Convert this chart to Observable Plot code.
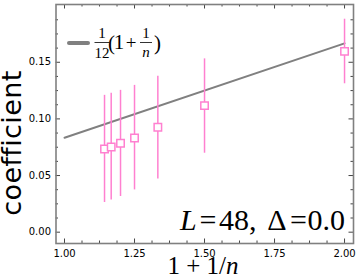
<!DOCTYPE html>
<html><head><meta charset="utf-8">
<script src="https://cdn.jsdelivr.net/npm/d3@7"></script>
<script src="https://cdn.jsdelivr.net/npm/@observablehq/plot@0.6"></script>
<style>body{margin:0;background:#fff} svg{display:block}</style>
</head><body><div id="chart"></div>
<script>
// data
const xVals = [1.1429, 1.1667, 1.2, 1.25, 1.3333, 1.5, 2.0];
const yVals = [0.0735, 0.0752, 0.0785, 0.0832, 0.0926, 0.1117, 0.1596];
const yLow  = [0.0262, 0.0285, 0.0315, 0.0373, 0.0470, 0.0697, 0.1310];
const yHigh = [0.1208, 0.1226, 0.1252, 0.1296, 0.1376, 0.1530, 0.1880];
const lineX = [1.0, 2.0];
const lineY = [0.08333, 0.16667];
const xMajor = [1.0, 1.25, 1.5, 1.75, 2.0];
const xTickLabels = ["1.00", "1.25", "1.50", "1.75", "2.00"];
const xMinor = [1.0625, 1.125, 1.1875, 1.3125, 1.375, 1.4375, 1.5625, 1.625, 1.6875, 1.8125, 1.875, 1.9375];
const yMajor = [0.0, 0.05, 0.10, 0.15];
const yTickLabels = ["0.00", "0.05", "0.10", "0.15"];
const yMinor = [0.0125, 0.025, 0.0375, 0.0625, 0.075, 0.0875, 0.1125, 0.125, 0.1375, 0.1625, 0.175, 0.1875];
const xDomain = [0.9696, 2.032];
const yDomain = [-0.01, 0.201];

const pts = xVals.map((x, i) => ({x, y: yVals[i], lo: yLow[i], hi: yHigh[i]}));
const lineData = lineX.map((x, i) => ({x, y: lineY[i]}));
const pink = "#ff80d0";
const gray = "#808080";
const tickColor = "#444";

function ticksX(vals, len) {
  return [
    Plot.ruleX(vals, {x: d => d, y1: yDomain[0], y2: yDomain[0], insetTop: -len, stroke: tickColor, strokeWidth: 1}),
    Plot.ruleX(vals, {x: d => d, y1: yDomain[1], y2: yDomain[1], insetBottom: -len, stroke: tickColor, strokeWidth: 1})
  ];
}
function ticksY(vals, len) {
  return [
    Plot.ruleY(vals, {y: d => d, x1: xDomain[0], x2: xDomain[0], insetRight: -len, stroke: tickColor, strokeWidth: 1}),
    Plot.ruleY(vals, {y: d => d, x1: xDomain[1], x2: xDomain[1], insetLeft: -len, stroke: tickColor, strokeWidth: 1})
  ];
}

const chart = Plot.plot({
  width: 357, height: 278,
  marginLeft: 55.5, marginRight: 4, marginTop: 4, marginBottom: 35,
  style: {fontFamily: "DejaVu Sans", fontSize: "10px", color: "#000", background: "#fff"},
  x: {domain: xDomain},
  y: {domain: yDomain},
  marks: [
    Plot.axisX(xMajor, {tickSize: 0, tickPadding: 6, tickFormat: d => xTickLabels[xMajor.indexOf(d)], label: null, fontSize: 10}),
    Plot.axisY(yMajor, {tickSize: 0, tickPadding: 5, tickFormat: d => yTickLabels[yMajor.indexOf(d)], label: null, fontSize: 10}),
    ...ticksX(xMajor, 4.5), ...ticksX(xMinor, 2.5),
    ...ticksY(yMajor, 4.5), ...ticksY(yMinor, 2.5),
    Plot.line(lineData, {x: "x", y: "y", stroke: gray, strokeWidth: 2}),
    Plot.ruleX(pts, {x: "x", y1: "lo", y2: "hi", stroke: pink, strokeWidth: 1.5}),
    Plot.dot(pts, {x: "x", y: "y", symbol: "square", r: 4.2, stroke: pink, strokeWidth: 1.5, fill: "white"}),
    Plot.frame({stroke: gray, strokeWidth: 1.6})
  ]
});
document.getElementById("chart").appendChild(chart);

const svg = d3.select(chart);
const serif = "'Liberation Serif', 'DejaVu Serif', serif";
const txt = (g, x, y, s, size, anchor, italic) => g.append("text").attr("x", x).attr("y", y)
  .attr("text-anchor", anchor).attr("font-family", serif).attr("font-size", size)
  .attr("font-style", italic ? "italic" : "normal").attr("fill", "#000").text(s);
// y label
svg.append("text")
  .attr("transform", "translate(21,143) rotate(-90)")
  .attr("text-anchor", "middle")
  .attr("font-family", "DejaVu Sans").attr("font-size", 27).attr("letter-spacing", 0.4)
  .attr("fill", "#000").text("coefficient");
// x label
const xl = svg.append("text").attr("x", 203).attr("y", 274).attr("text-anchor", "middle")
  .attr("font-family", serif).attr("font-size", 25).attr("fill", "#000");
xl.append("tspan").text("1 + 1/");
xl.append("tspan").attr("font-style", "italic").text("n");
// annotation
const an = svg.append("g");
txt(an, 180, 229.5, "L", 30, "start", true);
txt(an, 208, 229.5, "=", 30, "middle");
txt(an, 219, 229.5, "48,", 30, "start");
txt(an, 277, 229.5, "\u0394", 30, "middle");
txt(an, 298.5, 229.5, "=", 30, "middle");
txt(an, 345, 229.5, "0.0", 30, "end");
// legend
const lg = svg.append("g");
lg.append("line").attr("x1", 69).attr("x2", 88).attr("y1", 43).attr("y2", 43)
  .attr("stroke", gray).attr("stroke-width", 4).attr("stroke-linecap", "round");
txt(lg, 102, 38, "1", 15, "middle");
lg.append("line").attr("x1", 94.5).attr("x2", 109.5).attr("y1", 42.5).attr("y2", 42.5).attr("stroke", "#000").attr("stroke-width", 0.8);
txt(lg, 102, 58, "12", 15, "middle");
txt(lg, 108, 50, "(", 21, "start");
txt(lg, 119, 49, "1", 21, "middle");
txt(lg, 131, 49, "+", 19, "middle");
txt(lg, 146, 38, "1", 15, "middle");
lg.append("line").attr("x1", 140).attr("x2", 152).attr("y1", 42.5).attr("y2", 42.5).attr("stroke", "#000").attr("stroke-width", 0.8);
txt(lg, 146, 57, "n", 15, "middle", true);
txt(lg, 154, 50, ")", 21, "start");
</script>
</body></html>
